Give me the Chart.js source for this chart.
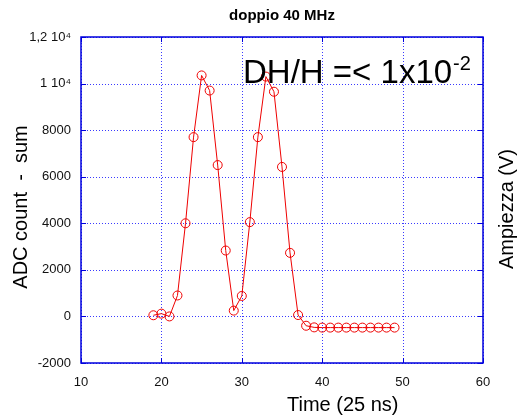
<!DOCTYPE html>
<html>
<head>
<meta charset="utf-8">
<script src="https://cdn.jsdelivr.net/npm/chart.js@4"></script>
<style>
  html, body { margin: 0; padding: 0; background: #fff; }
  #wrap { width: 518px; height: 417px; }
</style>
</head>
<body>
<div id="wrap"><canvas id="chart" width="518" height="417"></canvas></div>
<script>
// time samples (25 ns units) and summed ADC counts
const times = [19, 20, 21, 22, 23, 24, 25, 26, 27, 28, 29, 30, 31, 32, 33, 34, 35, 36, 37, 38,
  39, 40, 41, 42, 43, 44, 45, 46, 47, 48, 49];
const adcSum = [50, 120, 0, 900, 4000, 7700, 10350, 9700, 6500, 2830, 250, 880, 4050, 7700, 10300, 9650, 6420, 2730, 60, -400,
  -470, -480, -480, -480, -480, -480, -480, -480, -480, -480, -480];
const xTicks = [10, 20, 30, 40, 50, 60];
const yTicks = [-2000, 0, 2000, 4000, 6000, 8000, 10000, 12000];
const yTickLabels = ["-2000", "0", "2000", "4000", "6000", "8000", "1 10\u2074", "1,2 10\u2074"];

const BLUE = "#0000dd";
const GRID = "#3a3aff";

// dotted grid under the data
const dottedGrid = {
  id: "dottedGrid",
  beforeDatasetsDraw(chart) {
    const { ctx, chartArea: a, scales } = chart;
    ctx.save();
    ctx.strokeStyle = GRID;
    ctx.lineWidth = 1;
    ctx.setLineDash([1, 2]);
    ctx.beginPath();
    xTicks.forEach(v => {
      const px = Math.round(scales.x.getPixelForValue(v)) + 0.5;
      ctx.moveTo(px, a.top); ctx.lineTo(px, a.bottom);
    });
    yTicks.forEach(v => {
      const py = Math.round(scales.y.getPixelForValue(v)) + 0.5;
      ctx.moveTo(a.left, py); ctx.lineTo(a.right, py);
    });
    ctx.stroke();
    ctx.restore();
  }
};

// frame, inner tick marks and all the free text
const decorations = {
  id: "decorations",
  afterDraw(chart) {
    const { ctx, chartArea: a, scales } = chart;
    ctx.save();
    ctx.strokeStyle = BLUE;
    ctx.lineWidth = 1.5;
    ctx.setLineDash([]);
    ctx.strokeRect(a.left, a.top, a.right - a.left, a.bottom - a.top);
    ctx.lineWidth = 1;
    ctx.beginPath();
    xTicks.forEach(v => {
      const px = Math.round(scales.x.getPixelForValue(v)) + 0.5;
      ctx.moveTo(px, a.bottom); ctx.lineTo(px, a.bottom - 5);
      ctx.moveTo(px, a.top); ctx.lineTo(px, a.top + 5);
    });
    yTicks.forEach(v => {
      const py = Math.round(scales.y.getPixelForValue(v)) + 0.5;
      ctx.moveTo(a.left, py); ctx.lineTo(a.left + 5, py);
      ctx.moveTo(a.right, py); ctx.lineTo(a.right - 5, py);
    });
    ctx.stroke();

    ctx.fillStyle = "#000";
    ctx.textBaseline = "alphabetic";

    // title
    ctx.font = "bold 15px 'Liberation Sans', Arial, sans-serif";
    ctx.textAlign = "center";
    ctx.fillText("doppio 40 MHz", (a.left + a.right) / 2, 20);

    // x title
    ctx.font = "20px 'Liberation Sans', Arial, sans-serif";
    ctx.textAlign = "left";
    ctx.fillText("Time (25 ns)", 287, 411);

    // y title (left) and second axis title (right)
    ctx.textAlign = "center";
    ctx.save();
    ctx.translate(27, 207);
    ctx.rotate(-Math.PI / 2);
    ctx.fillText("ADC count  -  sum", 0, 0);
    ctx.restore();
    ctx.save();
    ctx.translate(513, 209);
    ctx.rotate(-Math.PI / 2);
    ctx.fillText("Ampiezza (V)", 0, 0);
    ctx.restore();

    // resolution note
    ctx.textAlign = "left";
    ctx.font = "33px 'Liberation Sans', Arial, sans-serif";
    const main = "DH/H =< 1x10";
    ctx.fillText(main, 243, 83);
    const w = ctx.measureText(main).width;
    ctx.font = "20px 'Liberation Sans', Arial, sans-serif";
    ctx.fillText("-2", 243 + w + 1, 70);
    ctx.restore();
  }
};

const ctx = document.getElementById("chart").getContext("2d");
new Chart(ctx, {
  type: "scatter",
  data: {
    datasets: [{
      label: "doppio 40 MHz",
      data: times.map((t, i) => ({ x: t, y: adcSum[i] })),
      showLine: true,
      borderColor: "#ee0000",
      borderWidth: 1,
      pointStyle: "circle",
      pointRadius: 4.5,
      pointBorderWidth: 1,
      pointBorderColor: "#ee0000",
      pointBackgroundColor: "rgba(0,0,0,0)",
      tension: 0
    }]
  },
  options: {
    responsive: false,
    animation: false,
    layout: { padding: { top: 37, right: 35, left: 0, bottom: 0 } },
    plugins: {
      legend: { display: false },
      title: { display: false },
      tooltip: { enabled: false }
    },
    scales: {
      x: {
        type: "linear",
        min: 10,
        max: 60,
        afterBuildTicks: s => { s.ticks = xTicks.map(v => ({ value: v })); },
        afterFit: s => { s.height = 54; },
        ticks: {
          padding: 12,
          color: "#111",
          font: { family: "'Liberation Sans', Arial, sans-serif", size: 13 }
        },
        grid: { display: false, drawTicks: false },
        border: { display: false }
      },
      y: {
        min: -2000,
        max: 12000,
        afterBuildTicks: s => { s.ticks = yTicks.map(v => ({ value: v })); },
        afterFit: s => { s.width = 81; },
        ticks: {
          padding: 10,
          color: "#111",
          font: { family: "'Liberation Sans', Arial, sans-serif", size: 13 },
          callback: v => yTickLabels[yTicks.indexOf(v)]
        },
        grid: { display: false, drawTicks: false },
        border: { display: false }
      }
    }
  },
  plugins: [dottedGrid, decorations]
});
</script>
</body>
</html>
